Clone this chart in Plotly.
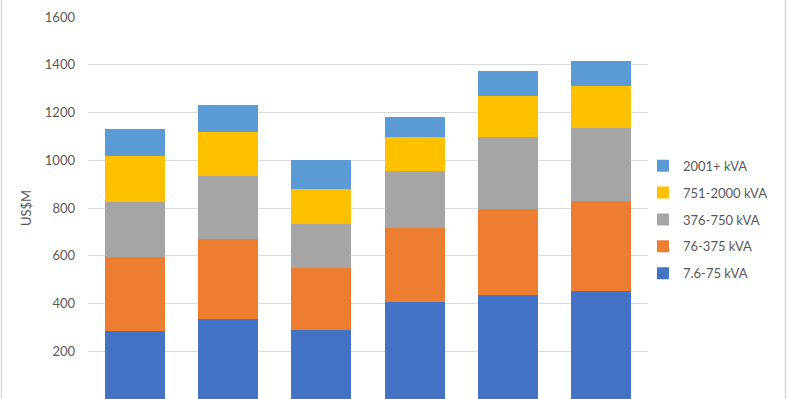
import plotly.graph_objects as go

categories = ["2017", "2018", "2019", "2020", "2021", "2022"]
series_names = ["7.6-75 kVA", "76-375 kVA", "376-750 kVA", "751-2000 kVA", "2001+ kVA"]
colors = ["#4472C4", "#ED7D31", "#A5A5A5", "#FFC000", "#5B9BD5"]

s_7_6_75 = [283, 334, 289, 405, 437, 452]
s_76_375 = [311, 337, 261, 313, 359, 378]
s_376_750 = [233, 264, 183, 238, 302, 304]
s_751_2000 = [192, 184, 148, 142, 171, 177]
s_2001 = [111, 111, 121, 85, 103, 104]

series_values = [s_7_6_75, s_76_375, s_376_750, s_751_2000, s_2001]
y_ticks = [0, 200, 400, 600, 800, 1000, 1200, 1400, 1600]

FONT = "Lato, 'Liberation Sans', Arial, sans-serif"
TXT = "#595959"

fig = go.Figure()
n = len(series_names)
for i, (name, vals, col) in enumerate(zip(series_names, series_values, colors)):
    fig.add_trace(go.Bar(x=categories, y=vals, name=name, marker_color=col,
                         marker_line_width=0, legendgroup=name,
                         legendrank=1000 + (n - i)))

fig.update_layout(
    width=787, height=399,
    barmode="stack", bargap=0.357,
    paper_bgcolor="white", plot_bgcolor="white",
    margin=dict(l=88, r=139, t=17, b=0, pad=0),
    font=dict(family=FONT, size=13, color=TXT),
    showlegend=True,
    legend=dict(x=0.991, xanchor="left", y=0.650, yanchor="top",
                traceorder="grouped", tracegroupgap=7,
                itemwidth=30, font=dict(family=FONT, size=13, color=TXT),
                bgcolor="rgba(0,0,0,0)"),
    xaxis=dict(showticklabels=False, showgrid=False, zeroline=False,
               showline=False, ticks=""),
    yaxis=dict(range=[0, 1600], tickvals=y_ticks, showgrid=True,
               gridcolor="#D9D9D9", gridwidth=1, zeroline=False,
               showline=False, ticks="", ticklabelstandoff=12,
               tickfont=dict(family=FONT, size=13, color=TXT),
               title=dict(text="US$M", standoff=10,
                          font=dict(family=FONT, size=13, color=TXT))),
    shapes=[
        dict(type="line", xref="paper", yref="paper", x0=-0.1545, x1=-0.1545,
             y0=-0.01, y1=1.05, line=dict(color="#D9D9D9", width=1.5)),
        dict(type="line", xref="paper", yref="paper", x0=1.2455, x1=1.2455,
             y0=-0.01, y1=1.05, line=dict(color="#D9D9D9", width=1.5)),
    ],
)

fig.write_html("out.html", config={"displayModeBar": False},
               post_script="document.body.style.margin='0';")
